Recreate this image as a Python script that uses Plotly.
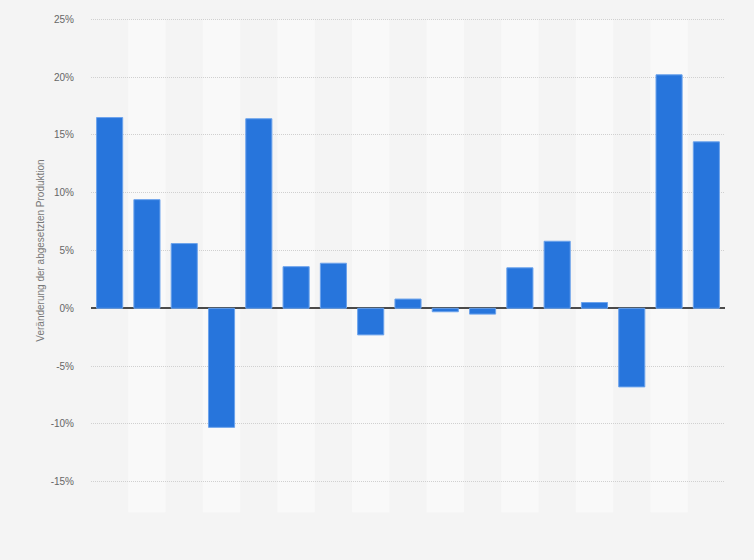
import plotly.graph_objects as go

categories = [str(i) for i in range(1, 18)]
values = [16.5, 9.4, 5.6, -10.3, 16.4, 3.6, 3.9, -2.3, 0.8, -0.3, -0.5, 3.5, 5.8, 0.5, -6.8, 20.2, 14.4]
y_ticks = [-15, -10, -5, 0, 5, 10, 15, 20, 25]
y_tick_labels = [f"{v}%" for v in y_ticks]
y_title = "Veränderung der abgesetzten Produktion"

fig = go.Figure()
fig.add_trace(go.Bar(
    x=categories, y=values,
    marker=dict(color="#2775dc", line=dict(color="#6ca3ec", width=1)),
    width=0.7,
))

shapes = []
for i in range(len(categories)):
    if i % 2 == 1:
        shapes.append(dict(type="rect", xref="x", yref="paper",
                           x0=i - 0.5, x1=i + 0.5, y0=-0.0604, y1=0.995,
                           fillcolor="#f9f9f9", line=dict(width=0), layer="below"))

fig.update_layout(
    width=754, height=560,
    paper_bgcolor="#f4f4f4", plot_bgcolor="rgba(0,0,0,0)",
    margin=dict(l=91, r=29, t=17.2, b=76.2),
    font=dict(family="Liberation Sans, Arial, sans-serif", size=10, color="#666666"),
    showlegend=False,
    shapes=shapes,
    bargap=0.3,
)
fig.update_xaxes(showticklabels=False, showgrid=False, zeroline=False, ticks="",
                 range=[-0.5, len(categories) - 0.5])
fig.update_yaxes(range=[-15.2, 25.2], tickvals=y_ticks, ticktext=y_tick_labels,
                 showgrid=True, gridcolor="#d0d0d0", griddash="1px,1px", gridwidth=1,
                 zeroline=True, zerolinecolor="#4a4a4a", zerolinewidth=2,
                 ticks="", ticklabelstandoff=16,
                 title=dict(text=y_title, font=dict(size=10, color="#777777"), standoff=4))

fig.write_html("out.html", config={"displayModeBar": False},
               post_script="document.body.style.margin='0';")
